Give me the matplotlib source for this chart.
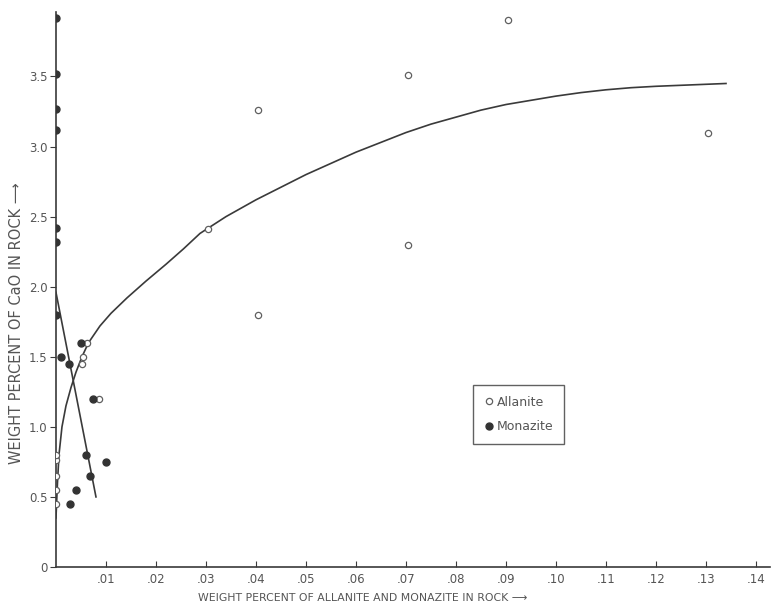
import matplotlib
matplotlib.use("Agg")
import matplotlib.pyplot as plt

# values
allanite_x = [0.0, 0.0, 0.0, 0.0, 0.0, 0.0052, 0.0054, 0.0062, 0.0086,
              0.0304, 0.0404, 0.0404, 0.0704, 0.0704, 0.0904, 0.1304]
allanite_y = [0.45, 0.55, 0.65, 0.76, 0.80, 1.45, 1.50, 1.60, 1.20,
              2.41, 3.26, 1.80, 3.51, 2.30, 3.90, 3.10]

monazite_x = [0.0, 0.0, 0.0, 0.0, 0.0, 0.0, 0.0, 0.001, 0.0026, 0.005,
              0.0074, 0.006, 0.0068, 0.010, 0.004, 0.0028]
monazite_y = [3.92, 3.52, 3.27, 3.12, 2.42, 2.32, 1.80, 1.50, 1.45, 1.60,
              1.20, 0.80, 0.65, 0.75, 0.55, 0.45]

# hand-drawn trend lines
allanite_curve_x = [0.0, 0.0003, 0.0006, 0.0012, 0.002, 0.003, 0.004, 0.0052,
                    0.0065, 0.0088, 0.011, 0.0142, 0.018, 0.022, 0.0255,
                    0.0288, 0.034, 0.04, 0.045, 0.05, 0.055, 0.06, 0.065,
                    0.07, 0.075, 0.08, 0.085, 0.09, 0.095, 0.10, 0.105,
                    0.11, 0.115, 0.12, 0.127, 0.134]
allanite_curve_y = [0.35, 0.6, 0.8, 1.0, 1.15, 1.28, 1.39, 1.5,
                    1.6, 1.72, 1.81, 1.92, 2.04, 2.16, 2.27,
                    2.38, 2.5, 2.62, 2.71, 2.8, 2.88, 2.96, 3.03,
                    3.1, 3.16, 3.21, 3.26, 3.3, 3.33, 3.36, 3.385,
                    3.405, 3.42, 3.43, 3.44, 3.45]
monazite_line_x = [0.0, 0.008]
monazite_line_y = [1.96, 0.50]

xticks = [0.01, 0.02, 0.03, 0.04, 0.05, 0.06, 0.07, 0.08, 0.09, 0.10,
          0.11, 0.12, 0.13, 0.14]
xticklabels = [".01", ".02", ".03", ".04", ".05", ".06", ".07", ".08",
               ".09", ".10", ".11", ".12", ".13", ".14"]
yticks = [0, 0.5, 1.0, 1.5, 2.0, 2.5, 3.0, 3.5]
yticklabels = ["0", "0.5", "1.0", "1.5", "2.0", "2.5", "3.0", "3.5"]

INK = "#3a3a3a"
TXT = "#555555"

fig = plt.figure(figsize=(7.72, 6.10), dpi=100)
ax = fig.add_axes([0.0725, 0.0705, 0.9249, 0.9098])

ax.plot(allanite_curve_x, allanite_curve_y, color=INK, lw=1.2, zorder=2)
ax.plot(monazite_line_x, monazite_line_y, color=INK, lw=1.2, zorder=2)

ax.plot(allanite_x, allanite_y, ls="none", marker="o", ms=4.5,
        mfc="white", mec="#606060", mew=0.9, zorder=4, label="Allanite")
ax.plot(monazite_x, monazite_y, ls="none", marker="o", ms=5,
        mfc="#333333", mec="#333333", zorder=4, label="Monazite")

ax.set_xlim(0, 0.1428)
ax.set_ylim(0, 3.96)
ax.spines["top"].set_visible(False)
ax.spines["right"].set_visible(False)
for s in ("left", "bottom"):
    ax.spines[s].set_color(INK)
    ax.spines[s].set_linewidth(1.2)

ax.set_xticks(xticks)
ax.set_xticklabels(xticklabels)
ax.set_yticks(yticks)
ax.set_yticklabels(yticklabels)
ax.tick_params(axis="x", direction="in", length=4, colors=INK,
               labelcolor=TXT, labelsize=8.5, pad=4)
ax.tick_params(axis="y", direction="out", length=4, colors=INK,
               labelcolor=TXT, labelsize=8.5, pad=2)

ax.set_xlabel("WEIGHT PERCENT OF ALLANITE AND MONAZITE IN ROCK \u27f6",
              fontsize=7.8, color=TXT)
ax.set_ylabel("WEIGHT PERCENT OF CaO IN ROCK \u27f6",
              fontsize=10.5, color=TXT)
ax.xaxis.set_label_coords(0.43, -0.047)
ax.yaxis.set_label_coords(-0.045, 0.44)

leg = ax.legend(loc="upper left", bbox_to_anchor=(0.575, 0.34),
                frameon=True, fancybox=False, fontsize=9, handletextpad=0.2,
                handlelength=0.8, borderpad=0.9, labelspacing=0.9)
leg.get_frame().set_edgecolor(INK)
leg.get_frame().set_linewidth(1.0)
for t in leg.get_texts():
    t.set_color(TXT)

fig.savefig("out.png", dpi=100)
